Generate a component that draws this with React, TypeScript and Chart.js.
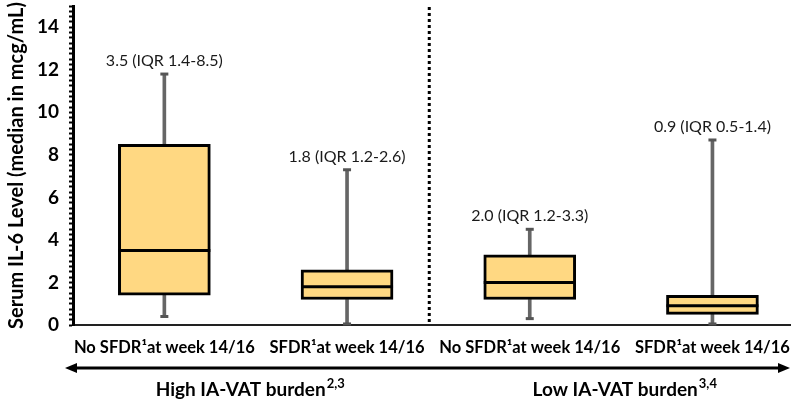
import React, { useEffect, useRef } from "react";
import { Chart, registerables } from "chart.js";

Chart.register(...registerables);

// Groups along the x axis
const categories = [
  "No SFDR¹at week 14/16",
  "SFDR¹at week 14/16",
  "No SFDR¹at week 14/16",
  "SFDR¹at week 14/16",
];
// Box statistics (mcg/mL)
const medians = [3.5, 1.8, 2.0, 0.9];
const q1 = [1.4, 1.2, 1.2, 0.5];
const q3 = [8.5, 2.6, 3.3, 1.4];
const whiskerLow = [0.4, 0.05, 0.3, 0.05];
const whiskerHigh = [11.8, 7.3, 4.5, 8.7];
// Burden groups under the axis
const groupLabels = ["High IA-VAT burden", "Low IA-VAT burden"];
const groupNotes = ["2,3", "3,4"];
const groupCenters = [0.47, 2.52];
const dividerAt = 1.45;

const FONT = "Lato, 'Open Sans', sans-serif";
const BOX_FILL = "#FFD882";
const WHISKER = "#666666";
const BOX_W = 92;

const fmt = (v: number) => v.toFixed(1);
const boxLabels = medians.map(
  (m, i) => `${fmt(m)} (IQR ${fmt(q1[i])}-${fmt(q3[i])})`
);

const noPadding = (s: any) => {
  s.paddingTop = 0;
  s.paddingBottom = 0;
  s.paddingLeft = 0;
  s.paddingRight = 0;
};

const boxPlugin = {
  id: "boxExtras",
  beforeDatasetsDraw(chart: any) {
    const { ctx, chartArea, scales } = chart;
    const x = scales.x.getPixelForValue(dividerAt);
    ctx.save();
    ctx.strokeStyle = "#000";
    ctx.lineWidth = 3;
    ctx.setLineDash([3, 3]);
    ctx.beginPath();
    ctx.moveTo(x, chartArea.top + 1);
    ctx.lineTo(x, chartArea.bottom);
    ctx.stroke();
    ctx.restore();
  },
  afterDatasetsDraw(chart: any) {
    const { ctx, scales } = chart;
    const xs = scales.x;
    const ys = scales.y;
    ctx.save();
    categories.forEach((_, i) => {
      const cx = xs.getPixelForValue(i);
      // whisker caps
      ctx.strokeStyle = "#555";
      ctx.lineWidth = 3;
      [whiskerLow[i], whiskerHigh[i]].forEach((v) => {
        const y = ys.getPixelForValue(v);
        ctx.beginPath();
        ctx.moveTo(cx - 4, y);
        ctx.lineTo(cx + 4, y);
        ctx.stroke();
      });
      // median line
      const my = ys.getPixelForValue(medians[i]);
      ctx.strokeStyle = "#000";
      ctx.lineWidth = 3;
      ctx.beginPath();
      ctx.moveTo(cx - BOX_W / 2, my);
      ctx.lineTo(cx + BOX_W / 2, my);
      ctx.stroke();
      // value label
      const ty = ys.getPixelForValue(whiskerHigh[i]) - 5;
      ctx.fillStyle = "#1a1a1a";
      ctx.font = `16px ${FONT}`;
      ctx.textAlign = "center";
      ctx.textBaseline = "bottom";
      ctx.fillText(boxLabels[i], cx, ty);
    });
    ctx.restore();
  },
  afterDraw(chart: any) {
    const { ctx, scales, width } = chart;
    const xs = scales.x;
    const ay = 368;
    const left = 65;
    const right = width - 1;
    ctx.save();
    ctx.strokeStyle = "#000";
    ctx.fillStyle = "#000";
    ctx.lineWidth = 3;
    ctx.beginPath();
    ctx.moveTo(left + 8, ay);
    ctx.lineTo(right - 8, ay);
    ctx.stroke();
    ctx.beginPath();
    ctx.moveTo(left, ay);
    ctx.lineTo(left + 12, ay - 5);
    ctx.lineTo(left + 12, ay + 5);
    ctx.closePath();
    ctx.fill();
    ctx.beginPath();
    ctx.moveTo(right, ay);
    ctx.lineTo(right - 12, ay - 5);
    ctx.lineTo(right - 12, ay + 5);
    ctx.closePath();
    ctx.fill();

    groupLabels.forEach((label, i) => {
      const cx = xs.getPixelForValue(groupCenters[i]);
      ctx.font = `bold 19px ${FONT}`;
      const w1 = ctx.measureText(label).width;
      ctx.font = `bold 13px ${FONT}`;
      const w2 = ctx.measureText(groupNotes[i]).width;
      const start = cx - (w1 + w2 + 1) / 2;
      ctx.textAlign = "left";
      ctx.textBaseline = "alphabetic";
      ctx.font = `bold 19px ${FONT}`;
      ctx.fillText(label, start, 396);
      ctx.font = `bold 13px ${FONT}`;
      ctx.fillText(groupNotes[i], start + w1 + 1, 388);
    });
    ctx.restore();
  },
};

export default function App() {
  const ref = useRef<HTMLCanvasElement | null>(null);

  useEffect(() => {
    if (!ref.current) return;
    const idx = categories.map((_, i) => i);
    const chart = new Chart(ref.current, {
      type: "bar",
      data: {
        datasets: [
          {
            label: "IQR",
            data: idx.map((i) => ({ x: i, y: [q1[i], q3[i]] })) as any,
            backgroundColor: BOX_FILL,
            borderColor: "#000",
            borderWidth: 3,
            borderSkipped: false,
            barThickness: BOX_W,
            grouped: false,
            order: 0,
          },
          {
            label: "upper",
            data: idx.map((i) => ({ x: i, y: [q3[i], whiskerHigh[i]] })) as any,
            backgroundColor: WHISKER,
            borderWidth: 0,
            barThickness: 3,
            grouped: false,
            order: 1,
          },
          {
            label: "lower",
            data: idx.map((i) => ({ x: i, y: [whiskerLow[i], q1[i]] })) as any,
            backgroundColor: WHISKER,
            borderWidth: 0,
            barThickness: 3,
            grouped: false,
            order: 1,
          },
        ],
      },
      options: {
        animation: false,
        responsive: false,
        layout: { padding: { top: 6, right: 0, left: 0, bottom: 0 } },
        plugins: {
          legend: { display: false },
          tooltip: { enabled: false },
        },
        scales: {
          x: {
            type: "linear",
            offset: false,
            min: -0.5,
            max: 3.43,
            afterBuildTicks: (s: any) => {
              s.ticks = idx.map((v) => ({ value: v }));
            },
            afterFit: (s: any) => {
              s.height = 77;
              noPadding(s);
            },
            grid: { display: false, drawTicks: false },
            border: { display: true, color: "#222", width: 2 },
            ticks: {
              padding: 13,
              color: "#000",
              font: { family: FONT, size: 16.5, weight: "bold" },
              autoSkip: false,
              maxRotation: 0,
              callback: (v: any) => categories[v] ?? "",
            },
          },
          y: {
            min: 0,
            max: 15,
            afterFit: (s: any) => {
              s.width = 73;
              noPadding(s);
            },
            grid: {
              drawOnChartArea: false,
              drawTicks: true,
              tickLength: 4,
              tickColor: "#000",
              tickWidth: 2,
            },
            border: { display: true, color: "#000", width: 3 },
            ticks: {
              stepSize: 0.25,
              autoSkip: false,
              maxTicksLimit: 100,
              padding: 10,
              color: "#000",
              font: { family: FONT, size: 19, weight: "bold" },
              callback: (v: any) => {
                const n = Number(v);
                return Math.abs(n / 2 - Math.round(n / 2)) < 1e-6 && n <= 14
                  ? String(Math.round(n))
                  : "";
              },
            },
            title: {
              display: true,
              text: "Serum IL-6 Level (median in mcg/mL)",
              color: "#000",
              padding: { top: 5, bottom: 0 },
              font: { family: FONT, size: 20, weight: "bold" },
            },
          },
        },
      },
      plugins: [boxPlugin],
    });
    return () => chart.destroy();
  }, []);

  return (
    <div
      style={{
        position: "fixed",
        left: 0,
        top: 0,
        width: 791,
        height: 402,
        background: "#fff",
      }}
    >
      <canvas ref={ref} width={791} height={402} />
    </div>
  );
}
